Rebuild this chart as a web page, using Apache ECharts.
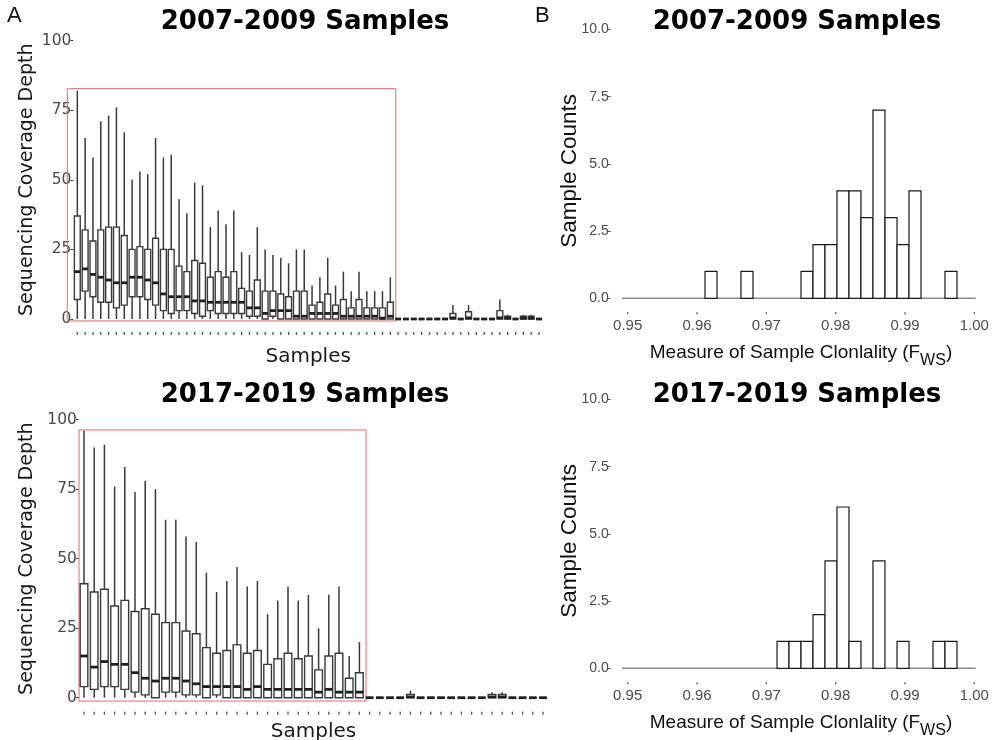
<!DOCTYPE html>
<html><head><meta charset="utf-8">
<script src="https://cdn.jsdelivr.net/npm/echarts@6/dist/echarts.min.js"></script>
<style>html,body{margin:0;padding:0;background:#fff}#c{width:998px;height:740px}</style>
</head><body><div id="c"></div>
<script>
// ---------- Panel A, 2007-2009 (60 samples) ----------
const topMin = [0,0,0,0,0,0,0,0,0,0,0,0,0,0,0,0,0,0,0,0,0,0,0,0,0,0,0,0,0,0,0,0,0,0,0,0,0,0,0,0,0,0,0,0,0,0,0,0,0,0,0,0,0,0,0,0,0,0,0,0];
const topQ1  = [7,10,8,6,6,4,5,8,8,7,5,3,2,3,3,2,1,3,2,2,2,2,1,1,0,1,0,0,0,0,0,0,0,0,0,0,0,0,0,0,0,0,0,0,0,0,0,0,0,0,0,0,0,0,0,0,0,0,0,0];
const topMed = [17,18,16,15,14,13,13,15,15,14,13,9,8,8,8,6.5,6.5,6,6,6,6,6,4,4,2,3,3,3,1,1,2,2,2,2,1,1,1,1,1,0.3,1,0,0,0,0,0,0,0,0.4,0,0.4,0,0,0,0.4,0.3,0,0.3,0.3,0];
const topQ3  = [37,32,28,32,33,33,30,25,26,25,29,25,25,19,17,21,20,15,17,15,17,11,10,14,10,10,9,8,10,10,5,6,9,5,7,4,7,4,4,4,6,0,0,0,0,0,0,0,2,0,2.6,0,0,0,3,1,0,1,1,0];
const topMax = [82,65,58,71,73,76,67,50,53,52,65,58,59,43,38,49,48,33,39,34,39,24,23,33,25,23,22,20,25,25,12,15,22,12,17,10,17,10,10,10,15,0,0,0,0,0,0,0,5,0,5,0,0,0,7,1.5,0,1.5,1.5,0];
const topCats = topMax.map((_, i) => 'S' + (i + 1));
const topRedBox = [-1.28, 40.7, -0.7, 82.7]; // [x from, x to (sample index), y from, y to]

// ---------- Panel A, 2017-2019 (46 samples) ----------
const botMin = [0,0,0,0,0,0,0,0,0,0,0,0,0,0,0,0,0,0,0,0,0,0,0,0,0,0,0,0,0,0,0,0,0,0,0,0,0,0,0,0,0,0,0,0,0,0];
const botQ1  = [4,3,4,4,3,2,1,0,2,2,1,1,0,1,0,0,0,0,0,0,0,0,0,0,0,0,0,0,0,0,0,0,0,0,0,0,0,0,0,0,0,0,0,0,0,0];
const botMed = [15,11,13,12,12,9,7,6,7,7,6,5,4,4,4,4,3,4,3,3,3,3,3,2,3,2,2,2,0,0,0,0,0.3,0,0,0,0,0,0,0,0.3,0.3,0,0,0,0];
const botQ3  = [41,38,39,33,35,31,32,30,27,27,24,23,18,16,17,19,16,17,12,14,16,14,15,10,15,16,7,9,0,0,0,0,1.2,0,0,0,0,0,0,0,1.2,1.2,0,0,0,0];
const botMax = [96,90,91,76,83,74,78,75,64,64,58,56,45,38,42,47,40,42,30,35,40,35,37,25,37,40,15,20,0,0,0,0,2.5,0,0,0,0,0,0,0,2,2,0,0,0,0];
const botCats = botMax.map((_, i) => 'S' + (i + 1));
const botRedBox = [-0.49, 27.65, -1.2, 96.3];

// ---------- Panel B histograms (Fws) ----------
const binWidth = 0.001731;
const topHistLo = [0.96115,0.96634,0.97500,0.97673,0.97846,0.98019,0.98192,0.98365,0.98538,0.98712,0.98885,0.99058,0.99577];
const topHistN  = [1,1,1,2,2,4,4,3,7,3,2,4,1];
const botHistLo = [0.97154,0.97327,0.97500,0.97673,0.97846,0.98019,0.98192,0.98538,0.98885,0.99404,0.99577];
const botHistN  = [1,1,1,2,4,6,1,4,1,1,1];
const histTicks = [0.95, 0.96, 0.97, 0.98, 0.99, 1.00];
const histBaseline = [0.9492, 1.0002];

const boxLabelFont = 'DejaVu Sans';
const narrowFont = '"Liberation Sans Narrow", "Liberation Sans", Arial, sans-serif';

function boxRender(params, api) {
  const x = api.value(0);
  const pMin = api.coord([x, api.value(1)]);
  const pQ1 = api.coord([x, api.value(2)]);
  const pMd = api.coord([x, api.value(3)]);
  const pQ3 = api.coord([x, api.value(4)]);
  const pMax = api.coord([x, api.value(5)]);
  const bw = api.size([1, 0])[0] * 0.75;
  const cx = pMd[0];
  const lineCol = '#3a3a3a';
  return {
    type: 'group',
    children: [
      { type: 'line', shape: { x1: cx, y1: pMax[1], x2: cx, y2: pQ3[1] }, style: { stroke: lineCol, lineWidth: 1.5 } },
      { type: 'line', shape: { x1: cx, y1: pQ1[1], x2: cx, y2: pMin[1] }, style: { stroke: lineCol, lineWidth: 1.5 } },
      { type: 'rect', shape: { x: cx - bw / 2, y: pQ3[1], width: bw, height: pQ1[1] - pQ3[1] }, style: { fill: '#fff', stroke: lineCol, lineWidth: 1.4 } },
      { type: 'line', shape: { x1: cx - bw / 2, y1: pMd[1], x2: cx + bw / 2, y2: pMd[1] }, style: { stroke: '#1f1f1f', lineWidth: 2.8 } }
    ]
  };
}
function tickRender(off, len) {
  return function (params, api) {
    const p = api.coord([api.value(0), 0]);
    return { type: 'line', shape: { x1: p[0], y1: p[1] + off, x2: p[0], y2: p[1] + off + len }, style: { stroke: '#555', lineWidth: 1.3 } };
  };
}
function redRectRender(box) {
  return function (params, api) {
    const o = api.coord([0, 0]);
    const bw = api.size([1, 0])[0];
    const x0 = o[0] + box[0] * bw, x1 = o[0] + box[1] * bw;
    const yT = api.coord([0, box[3]])[1], yB = api.coord([0, box[2]])[1];
    return { type: 'rect', shape: { x: x0, y: yT, width: x1 - x0, height: yB - yT }, style: { fill: 'none', stroke: '#e46a6a', lineWidth: 1 } };
  };
}
function histRender(params, api) {
  const a = api.coord([api.value(0), api.value(2)]);
  const b = api.coord([api.value(1), 0]);
  return { type: 'rect', shape: { x: a[0], y: a[1], width: b[0] - a[0], height: b[1] - a[1] }, style: { fill: '#fff', stroke: '#1a1a1a', lineWidth: 1.2 } };
}
function baseRender(params, api) {
  const a = api.coord([api.value(0), 0]);
  const b = api.coord([api.value(1), 0]);
  return { type: 'line', shape: { x1: a[0], y1: a[1], x2: b[0], y2: b[1] }, style: { stroke: '#8a8a8a', lineWidth: 1.6 } };
}

function boxX(gi, cats, offset, gap) {
  return {
    type: 'category', gridIndex: gi, data: cats, offset: offset,
    axisLine: { show: false },
    axisTick: { show: false },
    axisLabel: { show: false },
    splitLine: { show: false },
    name: 'Samples', nameLocation: 'middle', nameGap: gap, nameMoveOverlap: false,
    nameTextStyle: { fontFamily: boxLabelFont, fontSize: 20, color: '#1a1a1a' }
  };
}
function boxY(gi, gap) {
  return {
    type: 'value', gridIndex: gi, min: 0, max: 100, interval: 25,
    axisLine: { show: false },
    axisTick: { show: true, length: 3, lineStyle: { color: '#444' } },
    axisLabel: { fontFamily: boxLabelFont, fontSize: 15.5, color: '#4a4a4a', margin: 2 },
    splitLine: { show: false },
    name: 'Sequencing Coverage Depth', nameLocation: 'middle', nameGap: gap, nameMoveOverlap: false,
    nameTextStyle: { fontFamily: boxLabelFont, fontSize: 19, color: '#1a1a1a' }
  };
}
function histX(gi, gap) {
  return {
    type: 'value', gridIndex: gi, min: 0.95, max: 1.0, interval: 0.01, offset: 14,
    axisLine: { show: false },
    axisTick: { show: false },
    axisLabel: { formatter: v => v.toFixed(2), fontFamily: narrowFont, fontSize: 15, color: '#4d4d4d', margin: 6 },
    splitLine: { show: false },
    name: '{a|Measure of Sample Clonlality (F}{s|WS}{a|)}', nameLocation: 'middle', nameGap: gap, nameMoveOverlap: false,
    nameTextStyle: {
      rich: {
        a: { fontFamily: 'Liberation Sans', fontSize: 19, color: '#111', lineHeight: 20, verticalAlign: 'top' },
        s: { fontFamily: 'Liberation Sans', fontSize: 16, color: '#111', lineHeight: 14, padding: [9, 0, 0, 0], verticalAlign: 'top' }
      }
    }
  };
}
function histY(gi) {
  return {
    type: 'value', gridIndex: gi, min: 0, max: 10, interval: 2.5, offset: 17,
    axisLine: { show: false },
    axisTick: { show: true, length: 3, lineStyle: { color: '#555' } },
    axisLabel: { formatter: v => v.toFixed(1), fontFamily: narrowFont, fontSize: 14, color: '#4d4d4d', margin: 2 },
    splitLine: { show: false },
    name: 'Sample Counts', nameLocation: 'middle', nameGap: 29, nameMoveOverlap: false,
    nameTextStyle: { fontFamily: 'Liberation Sans', fontSize: 22.5, color: '#111', padding: [0, 14, 0, 0] }
  };
}

const titleStyle = { fontFamily: 'DejaVu Sans', fontWeight: 'bold', fontSize: 26, color: '#000' };
const chart = echarts.init(document.getElementById('c'), null, { renderer: 'canvas' });
chart.setOption({
  backgroundColor: '#fff',
  animation: false,
  title: [
    { text: '2007-2009 Samples', left: 300, top: 4, textAlign: 'center', textStyle: titleStyle },
    { text: '2017-2019 Samples', left: 300, top: 377, textAlign: 'center', textStyle: titleStyle },
    { text: '2007-2009 Samples', left: 792, top: 4, textAlign: 'center', textStyle: titleStyle },
    { text: '2017-2019 Samples', left: 792, top: 377, textAlign: 'center', textStyle: titleStyle },
    { text: 'A', left: 2, top: 0, textStyle: { fontFamily: 'Liberation Sans', fontWeight: 'normal', fontSize: 22, color: '#111' } },
    { text: 'B', left: 530, top: 0, textStyle: { fontFamily: 'Liberation Sans', fontWeight: 'normal', fontSize: 22, color: '#111' } }
  ],
  grid: [
    { left: 73.4, top: 40.5, width: 469.5, height: 278.5, outerBoundsMode: 'none' },
    { left: 78.9, top: 419.7, width: 469.2, height: 278, outerBoundsMode: 'none' },
    { left: 627.7, top: 29.5, width: 346.6, height: 268.8, outerBoundsMode: 'none' },
    { left: 627.7, top: 399.5, width: 346.6, height: 268.8, outerBoundsMode: 'none' }
  ],
  xAxis: [boxX(0, topCats, 13, 15), boxX(1, botCats, 14, 10), histX(2, 31), histX(3, 31)],
  yAxis: [boxY(0, 37), boxY(1, 42), histY(2), histY(3)],
  series: [
    { type: 'custom', xAxisIndex: 0, yAxisIndex: 0, renderItem: redRectRender(topRedBox), data: [[0, 0]], z: 1, silent: true },
    { type: 'custom', xAxisIndex: 0, yAxisIndex: 0, renderItem: boxRender, z: 2,
      data: topCats.map((c, i) => [i, topMin[i], topQ1[i], topMed[i], topQ3[i], topMax[i]]) },
    { type: 'custom', xAxisIndex: 0, yAxisIndex: 0, renderItem: tickRender(13, 3), z: 2, silent: true,
      data: topCats.map((c, i) => [i, 0]) },
    { type: 'custom', xAxisIndex: 1, yAxisIndex: 1, renderItem: redRectRender(botRedBox), data: [[0, 0]], z: 1, silent: true },
    { type: 'custom', xAxisIndex: 1, yAxisIndex: 1, renderItem: boxRender, z: 2,
      data: botCats.map((c, i) => [i, botMin[i], botQ1[i], botMed[i], botQ3[i], botMax[i]]) },
    { type: 'custom', xAxisIndex: 1, yAxisIndex: 1, renderItem: tickRender(14, 3), z: 2, silent: true,
      data: botCats.map((c, i) => [i, 0]) },
    { type: 'custom', xAxisIndex: 2, yAxisIndex: 2, renderItem: baseRender, data: [histBaseline], encode: { x: [0, 1] }, z: 1 },
    { type: 'custom', xAxisIndex: 2, yAxisIndex: 2, renderItem: histRender, z: 2, encode: { x: [0, 1], y: 2 },
      data: topHistLo.map((lo, i) => [lo, lo + binWidth, topHistN[i]]) },
    { type: 'custom', xAxisIndex: 2, yAxisIndex: 2, renderItem: tickRender(14, 2), z: 2, silent: true,
      data: histTicks.map(v => [v, 0]) },
    { type: 'custom', xAxisIndex: 3, yAxisIndex: 3, renderItem: baseRender, data: [histBaseline], encode: { x: [0, 1] }, z: 1 },
    { type: 'custom', xAxisIndex: 3, yAxisIndex: 3, renderItem: histRender, z: 2, encode: { x: [0, 1], y: 2 },
      data: botHistLo.map((lo, i) => [lo, lo + binWidth, botHistN[i]]) },
    { type: 'custom', xAxisIndex: 3, yAxisIndex: 3, renderItem: tickRender(14, 2), z: 2, silent: true,
      data: histTicks.map(v => [v, 0]) }
  ]
});
</script></body></html>
